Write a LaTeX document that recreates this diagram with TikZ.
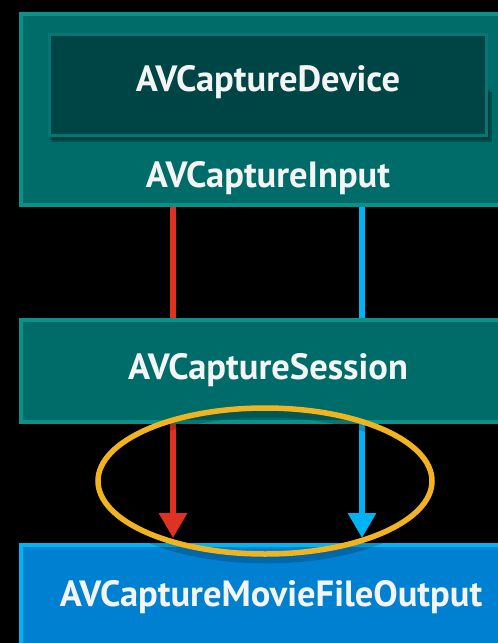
\documentclass[tikz,border=0pt]{standalone}
\usepackage{fontspec}
\setmainfont{PT Sans}
\usetikzlibrary{arrows.meta,shadows,calc}
\definecolor{tealfill}{HTML}{006C69}
\definecolor{tealedge}{HTML}{0A9189}
\definecolor{darkteal}{HTML}{004545}
\definecolor{darkedge}{HTML}{087572}
\definecolor{outfill}{HTML}{0080D0}
\definecolor{outedge}{HTML}{00B6F2}
\definecolor{redflow}{HTML}{E03222}
\definecolor{blueflow}{HTML}{00B4F4}
\definecolor{ringcol}{HTML}{F2B41E}
\definecolor{lbltext}{HTML}{F4F4F4}
\tikzset{
  box/.style={draw, line width=4pt, inner sep=0pt},
  lbl/.style={text=lbltext, font=\bfseries\fontsize{36.5}{40}\selectfont, inner sep=0pt},
  flow/.style={line width=6pt},
  tip/.style={-{Triangle[width=27pt,length=25pt]}, shorten >=5pt},
}
\begin{document}
\begin{tikzpicture}[x=1pt,y=-1pt]
\fill[black] (0,0) rectangle (498,643);
\useasboundingbox (0,0) rectangle (498,643);
\clip (0,0) rectangle (498,643);

% input wrapper with the capture device inside
\node[box, draw=tealedge, fill=tealfill, minimum width=494pt, minimum height=191pt] (input) at (268,109.5) {};
\fill[black, opacity=0.25] (52,92) rectangle (492,142);
\fill[black, opacity=0.2] (50,90) rectangle (490,140);
\node[box, draw=darkedge, fill=darkteal, line width=3pt, minimum width=437pt, minimum height=101pt] (device) at (268,85) {};
\node[lbl] (devlbl) at (268,82) {AVCaptureDevice};
\node[lbl] (inlbl) at (268,178) {AVCaptureInput};

% session
\node[box, draw=tealedge, fill=tealfill, minimum width=494pt, minimum height=102pt] (session) at (268,371) {};
\node[lbl] (seslbl) at (268,370) {AVCaptureSession};

% movie file output
\node[box, draw=outedge, fill=outfill, minimum width=494pt, minimum height=120pt] (output) at (268,605) {};
\node[lbl] (outlbl) at (271,597) {AVCaptureMovieFileOutput};

% connections
\coordinate (rx) at (173,0);
\coordinate (bx) at (362,0);
\draw[flow, redflow] (input.south -| rx) -- (session.north -| rx);
\draw[flow, blueflow] (input.south -| bx) -- (session.north -| bx);
\draw[flow, redflow, tip] (session.south -| rx) -- (output.north -| rx);
\draw[flow, blueflow, tip] (session.south -| bx) -- (output.north -| bx);

% highlight ring with a soft shadow
\draw[line width=9pt, black, opacity=0.18] (266,486) ellipse [x radius=167pt, y radius=73pt];
\draw[line width=5.5pt, ringcol] (265,481) ellipse [x radius=167pt, y radius=73pt] node (ring) {};
\end{tikzpicture}
\end{document}
